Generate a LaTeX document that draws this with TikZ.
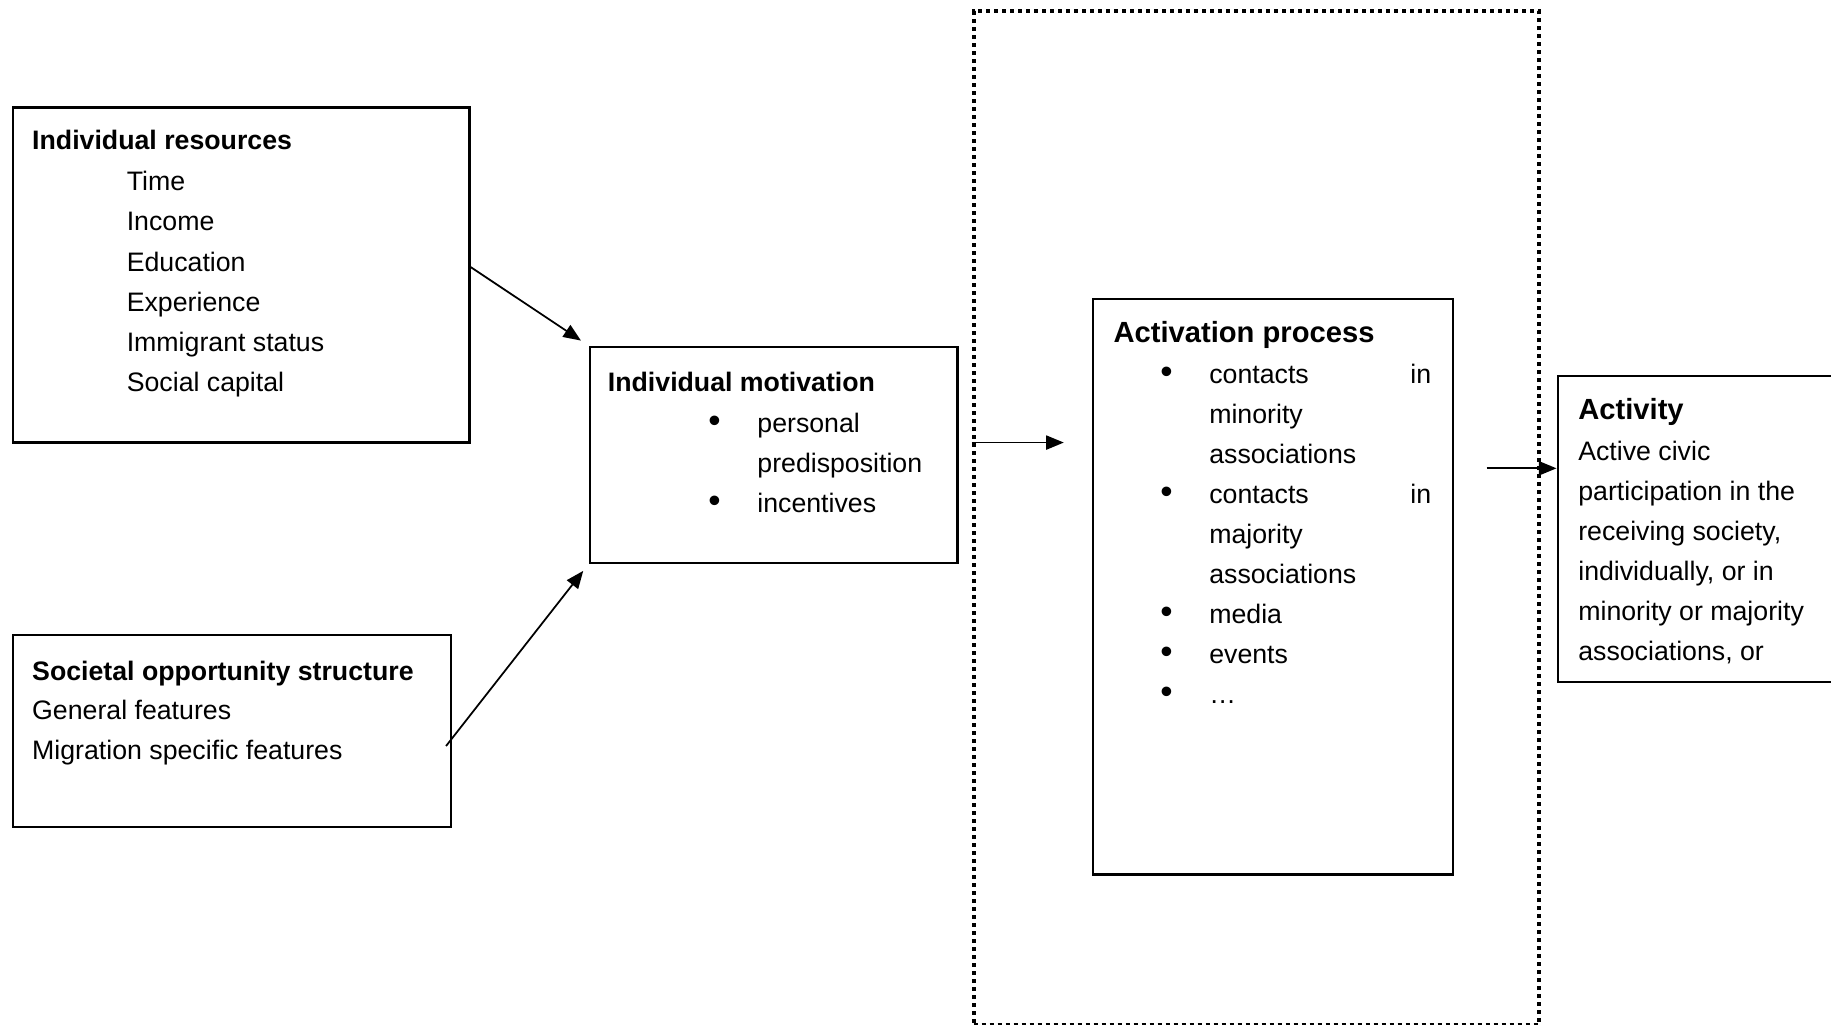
\documentclass[tikz,border=0pt]{standalone}
\usepackage{fontspec}
\setmainfont{Liberation Sans}
\usetikzlibrary{arrows.meta}

\tikzset{
  box/.style={draw, line width=0.7pt, anchor=north west, inner sep=0pt},
  txt/.style={anchor=base west, inner sep=0pt, font=\fontsize{7.6}{9}\selectfont},
  head/.style={txt, font=\fontsize{7.6}{9}\selectfont\bfseries},
  bighead/.style={txt, font=\fontsize{8.3}{10}\selectfont\bfseries},
  blt/.style={anchor=base, inner sep=0pt, font=\fontsize{10}{10}\selectfont},
  arr/.style={-{Triangle[length=5pt,width=4pt]}, line width=0.5pt},
}

\begin{document}
\begin{tikzpicture}[x=0.1mm,y=-0.1mm]
\useasboundingbox (0,0) rectangle (1831,1025);
\clip (0,0) rectangle (1831,1025);

% boxes
\node[box, minimum width=45.65mm, minimum height=33.51mm] (ir) at (11.7,106.3) {};
\node[box, minimum width=36.79mm, minimum height=21.61mm] (im) at (588.5,345.6) {};
\node[box, minimum width=43.79mm, minimum height=19.16mm] (sos) at (11.7,634) {};
\node[box, line width=1.15pt, dash pattern=on 0.4mm off 0.4mm,
      minimum width=56.52mm, minimum height=101.36mm] (frame) at (971.5,9.3) {};
\node[box, minimum width=35.97mm, minimum height=57.56mm] (ap) at (1091.8,297.8) {};
\node[box, minimum width=32mm, minimum height=30.6mm] (act) at (1556.5,374.8) {};

% individual resources
\node[head] (ir-t) at (31.5,150) {Individual resources};
\foreach \w [count=\i] in {Time,Income,Education,Experience,Immigrant status,Social capital}
  \node[txt] (ir-\i) at (126.1,150.9+40.05*\i) {\w};

% individual motivation
\node[head] (im-t) at (607.2,391.8) {Individual motivation};
\node[blt] (im-b1) at (714.6,432.7) {\textbullet};
\node[txt] (im-1) at (756.7,432.7) {personal};
\node[txt] (im-2) at (756.7,472.7) {predisposition};
\node[blt] (im-b3) at (714.6,512.8) {\textbullet};
\node[txt] (im-3) at (756.7,512.8) {incentives};

% societal opportunity structure
\node[head] (sos-t) at (31.5,680.2) {Societal opportunity structure};
\node[txt] (sos-1) at (31.5,719.9) {General features};
\node[txt] (sos-2) at (31.5,759.6) {Migration specific features};

% activation process
\node[bighead] (ap-t) at (1112.8,342.3) {Activation process};
\foreach \i in {1,4,7,8,9}
  \node[blt] (ap-b\i) at (1166.5,343.5+40.05*\i) {\textbullet};
\foreach \w [count=\i] in {{\makebox[22.18mm][l]{contacts\hfill in}},minority,associations,
    {\makebox[22.18mm][l]{contacts\hfill in}},majority,associations,media,events,…}
  \node[txt] (ap-\i) at (1208.6,343.5+40.05*\i) {\w};

% activity
\node[bighead] (act-t) at (1577.6,419.8) {Activity};
\foreach \w [count=\i] in {Active civic,participation in the,{receiving society,},
    {individually, or in},minority or majority,{associations, or}}
  \node[txt] (act-\i) at (1577.6,420.7+40.05*\i) {\w};

% connectors
\draw[arr, shorten >=0.9mm] ([yshift=0.8mm]ir.east) -- (im.north west);
\draw[arr, shorten >=0.85mm] ([shift={(-0.6mm,-1.5mm)}]sos.east) -- (im.south west);
\coordinate (imout) at ([yshift=1.23mm]im.east);
\draw[arr, shorten >=2.8mm] (imout -| frame.west) -- (imout -| ap.west);
\coordinate (actin) at ([yshift=6.07mm]act.west);
\coordinate (apout) at ([xshift=-7mm]actin);
\draw[arr] (apout) -- (actin);
\end{tikzpicture}
\end{document}
